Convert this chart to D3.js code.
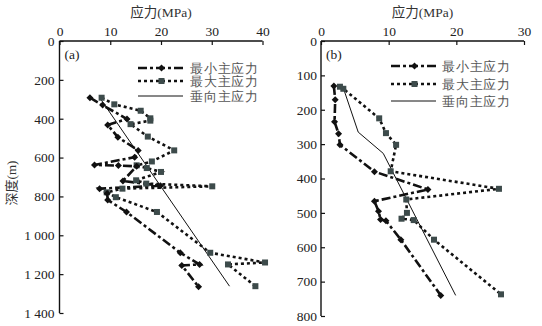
<!DOCTYPE html>
<html><head><meta charset="utf-8">
<script src="https://cdn.jsdelivr.net/npm/d3@7"></script>
<style>
body{margin:0;background:#fff;}
svg{display:block;}
text{font-family:"Liberation Serif",serif;}
</style></head>
<body><svg id="c" width="542" height="326"></svg>
<script>
// ---------- data ----------
const titleCJK = "应力", titleLatin = "(MPa)";
const yLabelCJK = "深度", yLabelLatin = "(m)";
const seriesNames = ["最小主应力","最大主应力","垂向主应力"];
const panelNames = ["(a)","(b)"];

const ticksAX = [0,10,20,30,40];
const ticksAY = [0,200,400,600,800,1000,1200,1400];
const ticksBX = [0,10,20,30];
const ticksBY = [0,100,200,300,400,500,600,700,800];

// panel a : [stress MPa, depth m]
const aMinStress = [6.0,8.5,13.3,9.5,11.5,15.5,14.8,6.9,11.6,15.2,12.5,19.9,7.9,9.4,9.5,13.2,23.8,27.6,24.1,27.4];
const aMinDepth  = [292,330,402,432,495,563,598,638,641,645,720,745,760,785,818,880,1090,1150,1155,1265];
const aMaxStress = [8.3,10.8,16.0,17.9,17.9,14.0,17.4,22.6,18.2,15.2,17.2,20.0,15.1,17.1,30.1,12.4,9.3,11.1,19.2,29.7,40.5,33.2,38.6];
const aMaxDepth  = [292,326,359,398,410,428,492,563,620,640,654,674,717,734,748,760,779,804,880,1090,1140,1150,1262];
const aVerStress = [8.0,33.5];
const aVerDepth  = [295,1262];

// panel b
const bMinStress = [1.9,2.1,2.0,2.6,2.8,7.9,15.8,7.9,8.5,8.8,9.6,11.8,17.7];
const bMinDepth  = [131,171,235,270,302,380,432,466,495,519,523,578,740];
const bMaxStress = [2.8,3.3,8.6,9.6,11.1,10.3,26.3,12.6,12.7,11.9,13.7,16.7,26.6];
const bMaxDepth  = [133,139,225,268,302,379,430,461,500,517,521,578,737];
const bVerStress = [3.2,5.5,9.2,19.9];
const bVerDepth  = [131,265,327,740];

// ---------- drawing ----------
const svg = d3.select("#c");
const zip = (xs, ys) => xs.map((v,i)=>[v, ys[i]]);
const fmtDepth = d => d >= 1000 ? String(d).replace(/(\d)(\d{3})$/, "$1 $2") : String(d);

function mixedText(sel, cjk, latin){
  sel.append("tspan").attr("font-family","Noto Sans CJK SC").text(cjk);
  sel.append("tspan").attr("font-family","Liberation Serif").text(latin);
  return sel;
}

function panel(cfg){
  const g = svg.append("g");
  const x = d3.scaleLinear().domain(cfg.xDom).range(cfg.xRange);
  const y = d3.scaleLinear().domain(cfg.yDom).range(cfg.yRange);

  const top = g.append("g").attr("transform",`translate(0,${cfg.yRange[0]})`)
    .call(d3.axisTop(x).tickValues(cfg.xt).tickSizeInner(-4).tickSizeOuter(0).tickPadding(5));
  const left = g.append("g").attr("transform",`translate(${cfg.xRange[0]},0)`)
    .call(d3.axisLeft(y).tickValues(cfg.yt).tickSizeInner(-4).tickSizeOuter(0).tickPadding(cfg.lpad).tickFormat(fmtDepth));
  [top,left].forEach(a=>{
    a.select(".domain").attr("stroke","#111").attr("stroke-width",1.4);
    a.selectAll(".tick line").attr("stroke","#111").attr("stroke-width",1.2);
    a.selectAll("text").attr("font-size",13.5).attr("fill","#222").attr("font-family","Liberation Serif");
  });
  top.select(".domain").attr("d",`M${cfg.xRange[0]},0H${cfg.xRange[1]}`);
  left.select(".domain").attr("d",`M0,${cfg.yRange[0]}V${cfg.yRange[1]}`);

  mixedText(g.append("text").attr("x",(cfg.xRange[0]+cfg.xRange[1])/2).attr("y",17)
    .attr("text-anchor","middle").attr("font-size",13.5).attr("fill","#333"), titleCJK, titleLatin);
  g.append("text").attr("x",cfg.xRange[0]+5).attr("y",cfg.yRange[0]+18)
    .attr("font-size",13.5).attr("fill","#222").text(cfg.name);

  const line = d3.line().x(d=>x(d[0])).y(d=>y(d[1]));
  const minPts = zip(cfg.minS,cfg.minD), maxPts = zip(cfg.maxS,cfg.maxD), verPts = zip(cfg.verS,cfg.verD);

  g.append("path").attr("d",line(verPts)).attr("fill","none").attr("stroke","#111").attr("stroke-width",1);
  g.append("path").attr("d",line(maxPts)).attr("fill","none").attr("stroke","#111")
    .attr("stroke-width",2.6).attr("stroke-dasharray","3,3");
  g.append("path").attr("d",line(minPts)).attr("fill","none").attr("stroke","#111")
    .attr("stroke-width",2.6).attr("stroke-dasharray","9,3,3,3");
  g.selectAll(".sq").data(maxPts).join("rect")
    .attr("x",d=>x(d[0])-3).attr("y",d=>y(d[1])-3).attr("width",6).attr("height",6).attr("fill","#3d4b4b");
  g.selectAll(".dm").data(minPts).join("path")
    .attr("d",d=>`M${x(d[0])},${y(d[1])-3.5}l3.5,3.5l-3.5,3.5l-3.5,-3.5z`).attr("fill","#111");

  // legend
  const L = cfg.leg;
  const styles = [
    {w:2.6,da:"9,3,3,3",mk:"dm"},
    {w:2.6,da:"3,3",mk:"sq"},
    {w:1,da:null,mk:null}
  ];
  seriesNames.forEach((nm,i)=>{
    const yy = L.ys[i];
    g.append("line").attr("x1",L.x0).attr("x2",L.x1).attr("y1",yy).attr("y2",yy)
      .attr("stroke","#111").attr("stroke-width",styles[i].w).attr("stroke-dasharray",styles[i].da);
    const mx = (L.x0+L.x1)/2 + 1;
    if(styles[i].mk==="dm") g.append("path").attr("d",`M${mx},${yy-3.5}l3.5,3.5l-3.5,3.5l-3.5,-3.5z`).attr("fill","#111");
    if(styles[i].mk==="sq") g.append("rect").attr("x",mx-3).attr("y",yy-3).attr("width",6).attr("height",6).attr("fill","#3d4b4b");
    g.append("text").attr("x",L.tx).attr("y",yy+4.5).attr("font-size",12.5).attr("fill","#555")
      .attr("font-family","Noto Sans CJK SC").attr("letter-spacing",0.8).text(nm);
  });
}

panel({xDom:[0,40],xRange:[59.5,262.5],yDom:[0,1400],yRange:[41,313],xt:ticksAX,yt:ticksAY,lpad:5,
  name:panelNames[0],minS:aMinStress,minD:aMinDepth,maxS:aMaxStress,maxD:aMaxDepth,verS:aVerStress,verD:aVerDepth,
  leg:{x0:138,x1:183,tx:190,ys:[68,81,96]}});
panel({xDom:[0,30],xRange:[321,524],yDom:[0,800],yRange:[41,316],xt:ticksBX,yt:ticksBY,lpad:4,
  name:panelNames[1],minS:bMinStress,minD:bMinDepth,maxS:bMaxStress,maxD:bMaxDepth,verS:bVerStress,verD:bVerDepth,
  leg:{x0:391,x1:436,tx:442,ys:[66,84,101]}});

mixedText(svg.append("text").attr("transform","translate(16,183) rotate(-90)").attr("text-anchor","middle")
  .attr("font-size",13).attr("fill","#333"), yLabelCJK, yLabelLatin);
</script></body></html>
